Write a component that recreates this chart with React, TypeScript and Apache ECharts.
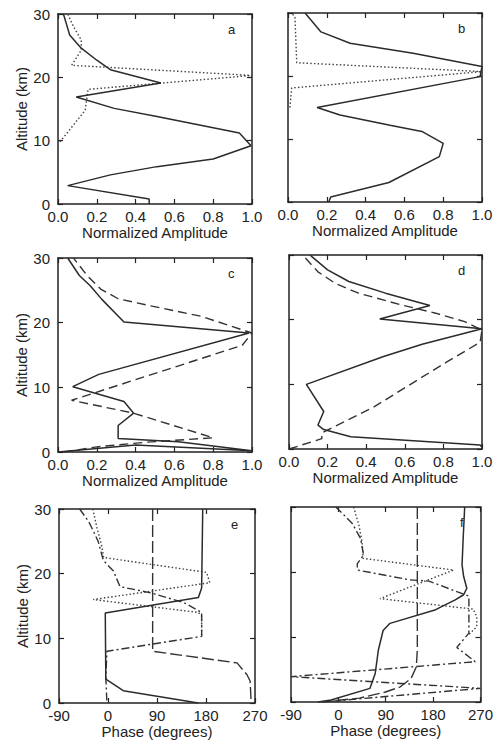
import React, { useEffect, useRef } from "react";
import * as echarts from "echarts";

// ---- data: [value, altitude km] ----
const ampTicks = [0, 0.2, 0.4, 0.6, 0.8, 1.0];
const phaseTicks = [-90, 0, 90, 180, 270];
const altTicks = [0, 10, 20, 30];

const aSolid = [[0.47,0],[0.47,0.8],[0.05,2.9],[0.27,4.6],[0.51,5.9],[0.8,7.1],[0.995,9.2],[0.935,11.2],[0.51,13.8],[0.29,15.1],[0.094,16.9],[0.53,19.1],[0.27,21.2],[0.2,22.7],[0.12,24.6],[0.06,26.7],[0.03,29.8],[0.025,30]];
const aDotted = [[0.01,9.8],[0.14,14.8],[0.155,18.1],[1.0,20.3],[0.07,21.9],[0.12,24.3],[0.12,25.9],[0.08,28],[0.05,30]];

const bSolid = [[0.21,0],[0.22,0.8],[0.52,3.1],[0.78,7.2],[0.8,9.3],[0.69,11.2],[0.526,12.2],[0.268,13.8],[0.15,15.0],[0.99,19.9],[1.0,21.5],[0.645,23.6],[0.32,25.2],[0.17,27],[0.088,30]];
const bDotted = [[0.01,15],[0.019,18.1],[1.0,20.7],[0.045,22.1],[0.036,29.3],[0.02,30]];

const cSolid = [[0.0,0.0],[0.4,1.1],[1.0,0.2],[0.62,1.6],[0.31,2.1],[0.31,4.1],[0.39,6.0],[0.34,7.8],[0.076,10.1],[0.21,12],[0.985,18.4],[0.34,20.1],[0.226,23.6],[0.166,25.7],[0.11,27.3],[0.05,30]];
const cDashed = [[0.03,0],[0.2,0.8],[0.45,1.5],[0.8,2.2],[0.39,6.0],[0.07,8.0],[0.95,16.5],[1.0,18.4],[0.736,21.0],[0.477,22.6],[0.31,23.7],[0.22,25.2],[0.15,27.3],[0.09,29.6],[0.08,30]];

const dSolid = [[1.0,0.3],[0.99,0.6],[0.32,1.9],[0.18,3.0],[0.15,3.7],[0.18,5.8],[0.09,10.0],[0.49,14.3],[0.69,16.2],[1.0,18.6],[0.47,20.1],[0.73,22.2],[0.5,24.1],[0.31,25.9],[0.2,27.7],[0.12,29.7],[0.11,30]];
const dDashed = [[0.0,0],[0.17,1.6],[0.17,2.5],[0.44,6.5],[0.64,10.2],[0.82,13.5],[0.99,16.5],[1.0,18.4],[0.91,19.7],[0.76,21.0],[0.58,22.3],[0.36,24.1],[0.24,25.6],[0.15,27.4],[0.08,29.7],[0.07,30]];

const eSolid = [[166,0],[28,1.9],[-4,3.7],[-5,13.9],[166,16.3],[172,17.8],[174,30]];
const eLongDash = [[82,30],[82,8.0],[237,6.2],[255,4.4],[261,3.4],[263,0]];
const eDotted = [[-28,30],[-20,27],[-12,24.5],[-8,22.5],[181,20.2],[187,18.6],[-27,16],[166,14],[172,13.5],[172,10.3]];
const eDashDot = [[-52,30],[-35,28],[-18,25],[-10,22.5],[-8,22],[10,20.4],[22,18],[80,17],[140,15.5],[172,14],[172,10.3],[-2,8],[-4,4],[-2,0]];

const fSolid = [[240,30],[237,25],[235,21.1],[238,19.3],[244,17.5],[238,16.5],[222,15.7],[197,14.7],[185,14.2],[98,12.1],[85,11.0],[76,8],[70,4.4],[60,2.1],[-14,0.3],[-39,0]];
const fLongDash = [[150,30],[150,8],[148,5.4],[138,3.6],[117,2.3],[88,1.5],[40,0.6],[-30,0]];
const fDotted = [[29,30],[39,27.2],[45,24.7],[47,22.1],[219,20.3],[79,15.9],[256,14.3],[263,13.1],[263,11.6],[247,10.3]];
const fDashDot = [[-5,30],[14,28.5],[26,27.5],[42,25.2],[48,22.6],[36,21.3],[36,20.3],[135,18.8],[172,18.6],[241,16.5],[248,16.3],[248,10.6],[225,8.4],[260,6.2],[-90,3.9],[270,2.1],[-30,0]];

// ---- layout ----
const GRIDS = [
  { left: 58, top: 14, width: 194, height: 190 },
  { left: 288, top: 13, width: 194, height: 189 },
  { left: 58, top: 258, width: 194, height: 194 },
  { left: 289, top: 255, width: 193, height: 194 },
  { left: 59, top: 509, width: 196, height: 194 },
  { left: 291, top: 507, width: 193, height: 195 },
];

const PANELS = [
  { letter: "a", kind: "amp", lines: [[aSolid, "solid"], [aDotted, "dotted"]] },
  { letter: "b", kind: "amp", lines: [[bSolid, "solid"], [bDotted, "dotted"]] },
  { letter: "c", kind: "amp", lines: [[cSolid, "solid"], [cDashed, "dashed"]] },
  { letter: "d", kind: "amp", lines: [[dSolid, "solid"], [dDashed, "dashed"]] },
  { letter: "e", kind: "phase", lines: [[eSolid, "solid"], [eLongDash, "longdash"], [eDotted, "dotted"], [eDashDot, "dashdot"]] },
  { letter: "f", kind: "phase", lines: [[fSolid, "solid"], [fLongDash, "longdash"], [fDotted, "dotted"], [fDashDot, "dashdot"]] },
];

const STYLES: Record<string, any> = {
  solid: { type: "solid", width: 1.5, color: "#2b2b2b" },
  dotted: { type: [1.5, 2.2], width: 1.4, color: "#444" },
  dashed: { type: [9, 5], width: 1.4, color: "#333" },
  longdash: { type: [12, 4], width: 1.4, color: "#333" },
  dashdot: { type: [8, 3, 2, 3], width: 1.4, color: "#333" },
};

const FONT = "Liberation Sans";
const INK = "#222";

export default function App() {
  const ref = useRef<HTMLDivElement>(null);
  useEffect(() => {
    if (!ref.current) return;
    const chart = echarts.init(ref.current, null, { renderer: "svg" });
    const grid: any[] = [];
    const xAxis: any[] = [];
    const yAxis: any[] = [];
    const series: any[] = [];
    const graphic: any[] = [];
    const axisLine = { show: true, onZero: false, lineStyle: { color: INK, width: 1.5 } };
    const axisTick = { show: true, inside: true, length: 5, lineStyle: { color: INK, width: 1.2 } };

    PANELS.forEach((p, i) => {
      const g = GRIDS[i];
      grid.push({ ...g, containLabel: false });
      const isAmp = p.kind === "amp";
      const ticks = isAmp ? ampTicks : phaseTicks;
      const xBase = {
        type: "value",
        gridIndex: i,
        min: ticks[0],
        max: ticks[ticks.length - 1],
        interval: ticks[1] - ticks[0],
        axisLine,
        axisTick,
        splitLine: { show: false },
      };
      xAxis.push({
        ...xBase,
        position: "bottom",
        axisLabel: {
          show: true,
          fontSize: 15,
          fontFamily: FONT,
          color: INK,
          margin: 5,
          formatter: (v: number) => (isAmp ? v.toFixed(1) : String(v)),
        },
        name: isAmp ? "Normalized Amplitude" : "Phase (degrees)",
        nameLocation: "middle",
        nameGap: 20,
        nameTextStyle: { fontSize: 15, fontFamily: FONT, color: INK },
      });
      xAxis.push({ ...xBase, position: "top", axisLabel: { show: false } });
      const leftCol = i % 2 === 0;
      const yBase = {
        type: "value",
        gridIndex: i,
        min: altTicks[0],
        max: altTicks[altTicks.length - 1],
        interval: altTicks[1] - altTicks[0],
        axisLine,
        axisTick,
        splitLine: { show: false },
      };
      yAxis.push({
        ...yBase,
        position: "left",
        axisLabel: { show: leftCol, fontSize: 15, fontFamily: FONT, color: INK, margin: 8 },
        name: leftCol ? "Altitude (km)" : "",
        nameLocation: "middle",
        nameGap: 29,
        nameRotate: 90,
        nameTextStyle: { fontSize: 15, fontFamily: FONT, color: INK },
      });
      yAxis.push({ ...yBase, position: "right", axisLabel: { show: false } });

      p.lines.forEach(([data, st]: any) => {
        series.push({
          type: "line",
          xAxisIndex: 2 * i,
          yAxisIndex: 2 * i,
          data,
          showSymbol: false,
          symbol: "none",
          clip: true,
          lineStyle: { ...STYLES[st], cap: "butt" },
          z: st === "solid" ? 3 : 2,
        });
      });

      graphic.push({
        type: "text",
        left: g.left + g.width - 24,
        top: g.top + 9,
        style: { text: p.letter, fontSize: 13, fontFamily: FONT, fill: INK },
      });
    });

    chart.setOption({
      animation: false,
      backgroundColor: "#fff",
      grid,
      xAxis,
      yAxis,
      series,
      graphic,
    });
    return () => chart.dispose();
  }, []);
  return (
    <div
      ref={ref}
      style={{ position: "fixed", left: 0, top: 0, width: 496, height: 748, background: "#fff" }}
    />
  );
}
